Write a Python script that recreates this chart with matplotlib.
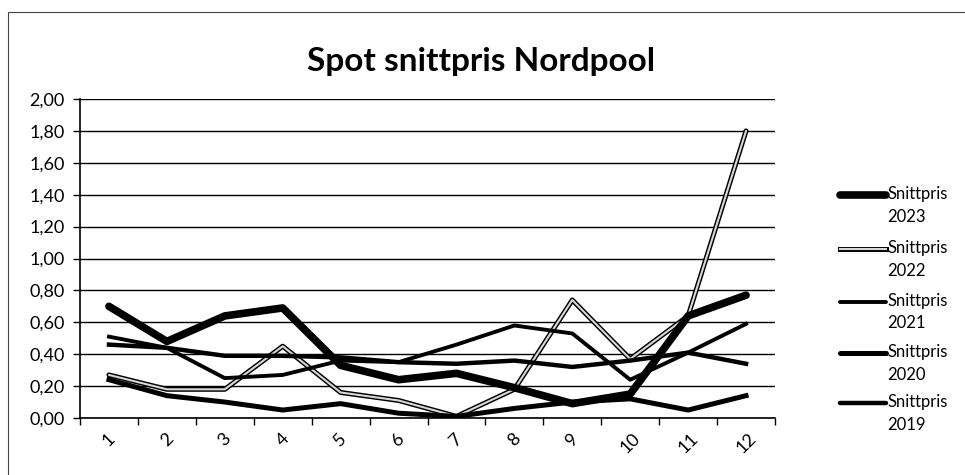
import matplotlib
matplotlib.use('Agg')
import matplotlib.pyplot as plt
from matplotlib.lines import Line2D
from matplotlib.patches import Rectangle

plt.rcParams['font.family'] = ['Lato', 'DejaVu Sans']

# Måneder og snittpriser (NOK/kWh)
months = [1, 2, 3, 4, 5, 6, 7, 8, 9, 10, 11, 12]
pris_2023 = [0.70, 0.48, 0.64, 0.69, 0.33, 0.24, 0.28, 0.19, 0.09, 0.15, 0.64, 0.77]
pris_2022 = [0.27, 0.18, 0.18, 0.45, 0.16, 0.11, 0.01, 0.18, 0.74, 0.37, 0.64, 1.80]
pris_2021 = [0.51, 0.44, 0.25, 0.27, 0.36, 0.35, 0.46, 0.58, 0.53, 0.24, 0.41, 0.59]
pris_2020 = [0.24, 0.14, 0.10, 0.05, 0.09, 0.03, 0.01, 0.06, 0.10, 0.12, 0.05, 0.14]
pris_2019 = [0.46, 0.44, 0.39, 0.39, 0.38, 0.35, 0.34, 0.36, 0.32, 0.36, 0.41, 0.34]

y_ticks = [0.0, 0.2, 0.4, 0.6, 0.8, 1.0, 1.2, 1.4, 1.6, 1.8, 2.0]
labels = ['Snittpris\n2023', 'Snittpris\n2022', 'Snittpris\n2021',
          'Snittpris\n2020', 'Snittpris\n2019']

fig = plt.figure(figsize=(9.65, 4.75), dpi=100)
ax = fig.add_axes([80/965, 1 - 418/475, 695/965, 319/475])

# ytre ramme rundt diagrammet
fig.add_artist(Rectangle((8/965, -0.1), 1.2, 1 - 12/475 + 0.1,
                         transform=fig.transFigure, fill=False,
                         edgecolor='#444444', lw=0.8))

# linjer
ax.plot(months, pris_2022, color='black', lw=3.6, solid_capstyle='round', zorder=3)
ax.plot(months, pris_2022, color='#d8d8d8', lw=1.5, solid_capstyle='round', zorder=3.1)
ax.plot(months, pris_2021, color='black', lw=2.8, zorder=4)
ax.plot(months, pris_2019, color='black', lw=3.2, zorder=4)
ax.plot(months, pris_2020, color='black', lw=3.6, zorder=4)
ax.plot(months, pris_2023, color='black', lw=5.5, solid_capstyle='round', zorder=5)

ax.set_xlim(0.5, 12.5)
ax.set_ylim(0, 2.0)
ax.set_yticks(y_ticks)
ax.set_yticklabels([('%.2f' % v).replace('.', ',') for v in y_ticks], fontsize=13)
ax.yaxis.grid(True, color='black', lw=1.0)
ax.set_axisbelow(True)

ax.set_xticks(months)
ax.set_xticklabels([str(m) for m in months], rotation=45, fontsize=13,
                   ha='center', va='top')
ax.set_xticks([m + 0.5 for m in [0] + months], minor=True)
ax.tick_params(axis='x', which='major', length=0, pad=9)
ax.tick_params(axis='x', which='minor', length=5, width=1, direction='out')
ax.tick_params(axis='y', length=5, width=1, direction='out', pad=6)

for s in ['top', 'right']:
    ax.spines[s].set_visible(False)
ax.spines['left'].set_linewidth(1.2)
ax.spines['bottom'].set_linewidth(1.2)

fig.text(0.498, 1 - 62/475, 'Spot snittpris Nordpool', ha='center', va='center',
         fontsize=24, fontweight='bold')

# forklaring
leg_y = [195, 249, 302, 353, 403]
leg_w = [5.5, 3.6, 2.8, 3.6, 3.2]
for i in range(5):
    y = 1 - leg_y[i] / 475
    x0, x1 = 840 / 965, 886 / 965
    if i == 1:
        fig.add_artist(Line2D([x0, x1], [y, y], color='black', lw=3.6,
                              transform=fig.transFigure))
        fig.add_artist(Line2D([x0, x1], [y, y], color='#d8d8d8', lw=1.5,
                              transform=fig.transFigure))
    else:
        fig.add_artist(Line2D([x0, x1], [y, y], color='black', lw=leg_w[i],
                              solid_capstyle='round', transform=fig.transFigure))
    fig.text(887 / 965, y + 9 / 475, labels[i], ha='left', va='top',
             fontsize=12, linespacing=1.5)

fig.savefig('out.png', dpi=100)
